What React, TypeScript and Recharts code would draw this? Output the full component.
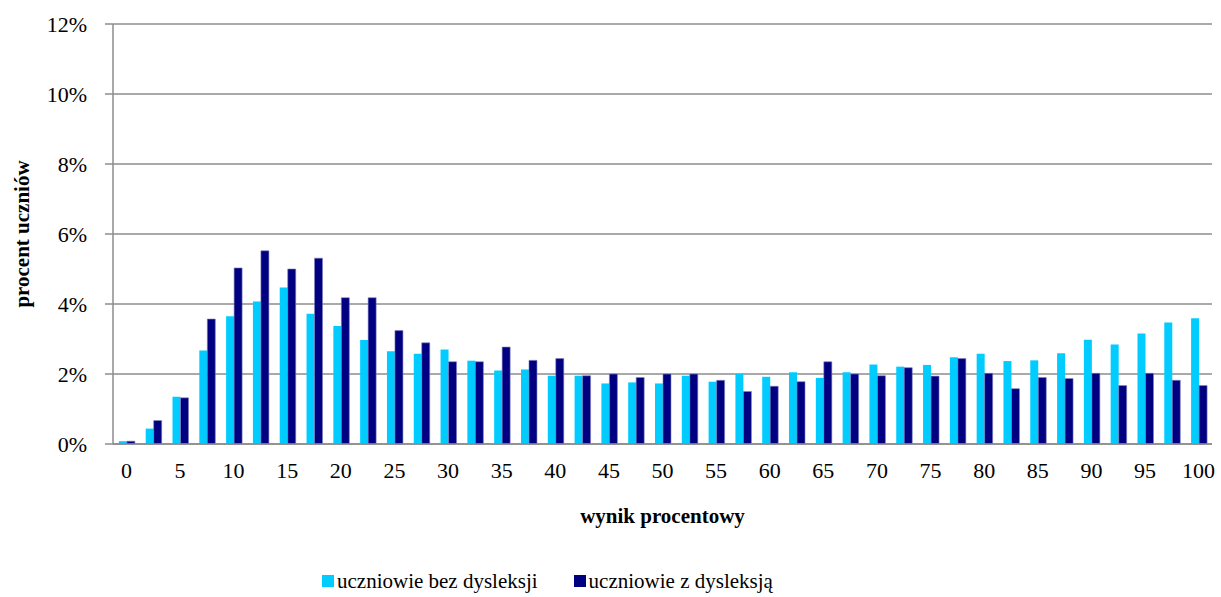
import React from "react"
import {
    BarChart,
    Bar,
    XAxis,
    YAxis,
    CartesianGrid,
    Legend
} from "recharts"

// wynik procentowy: 0, 2.5, 5 ... 100
const categories = [
    "0", "2.5", "5", "7.5", "10", "12.5", "15", "17.5", "20", "22.5",
    "25", "27.5", "30", "32.5", "35", "37.5", "40", "42.5", "45", "47.5",
    "50", "52.5", "55", "57.5", "60", "62.5", "65", "67.5", "70", "72.5",
    "75", "77.5", "80", "82.5", "85", "87.5", "90", "92.5", "95", "97.5", "100"
]

const bezDysleksji = [
    0.08, 0.44, 1.35, 2.67, 3.65, 4.07, 4.47, 3.72, 3.37, 2.97,
    2.65, 2.58, 2.70, 2.38, 2.10, 2.13, 1.95, 1.95, 1.73, 1.76,
    1.73, 1.95, 1.78, 2.01, 1.92, 2.05, 1.89, 2.05, 2.27, 2.21,
    2.26, 2.48, 2.58, 2.37, 2.39, 2.59, 2.98, 2.84, 3.16, 3.47, 3.59
]

const zDysleksja = [
    0.08, 0.67, 1.32, 3.57, 5.03, 5.52, 5.00, 5.31, 4.18, 4.18,
    3.24, 2.89, 2.35, 2.35, 2.77, 2.39, 2.44, 1.95, 2.00, 1.90,
    2.00, 2.00, 1.82, 1.50, 1.65, 1.78, 2.35, 2.00, 1.95, 2.18,
    1.94, 2.44, 2.02, 1.58, 1.90, 1.87, 2.02, 1.67, 2.02, 1.82, 1.67
]

const yTicks = [0, 2, 4, 6, 8, 10, 12]

const LIGHT = "#00ccff"
const DARK = "#000080"
const GRID = "#8c8c8c"
const FONT = "'Liberation Serif', 'Times New Roman', serif"

const data = categories.map((c, i) => ({
    wynik: c,
    bez: bezDysleksji[i],
    z: zDysleksja[i]
}))

function LegendContent() {
    const item = (color: string, text: string) => (
        <div style={{ display: "flex", alignItems: "center", marginRight: 36 }}>
            <span style={{ width: 12, height: 12, background: color, marginRight: 3, display: "inline-block" }} />
            <span>{text}</span>
        </div>
    )
    return (
        <div style={{
            display: "flex",
            paddingLeft: 322,
            paddingTop: 22,
            fontFamily: FONT,
            fontSize: 21,
            color: "#000",
            lineHeight: "24px"
        }}>
            {item(LIGHT, "uczniowie bez dysleksji")}
            {item(DARK, "uczniowie z dysleksją")}
        </div>
    )
}

export default function App() {
    return (
        <div style={{ position: "absolute", left: 0, top: 0, background: "#fff" }}>
            <BarChart
                width={1221}
                height={597}
                data={data}
                margin={{ top: 24, right: 9, left: 0, bottom: 0 }}
                barCategoryGap="22%"
                barGap={0}
            >
                <CartesianGrid vertical={false} stroke={GRID} strokeWidth={1.5} />
                <XAxis
                    dataKey="wynik"
                    interval={1}
                    height={103}
                    tickLine={false}
                    tickSize={0}
                    tickMargin={18}
                    axisLine={{ stroke: GRID, strokeWidth: 1.5 }}
                    tick={{ fill: "#000", fontSize: 22, fontFamily: FONT }}
                    label={({ viewBox }: any) => (
                        <text
                            x={viewBox.x + viewBox.width / 2}
                            y={viewBox.y + 79}
                            textAnchor="middle"
                            fontFamily={FONT}
                            fontSize={21}
                            fontWeight="bold"
                            fill="#000"
                        >
                            wynik procentowy
                        </text>
                    )}
                />
                <YAxis
                    width={113}
                    domain={[0, 12]}
                    ticks={yTicks}
                    tickFormatter={(v: number) => `${v}%`}
                    tickSize={8}
                    tickMargin={18}
                    axisLine={{ stroke: GRID, strokeWidth: 1.5 }}
                    tickLine={{ stroke: GRID, strokeWidth: 1.5 }}
                    tick={{ fill: "#000", fontSize: 22, fontFamily: FONT }}
                    label={({ viewBox }: any) => (
                        <text
                            x={22}
                            y={viewBox.y + viewBox.height / 2}
                            transform={`rotate(-90, 22, ${viewBox.y + viewBox.height / 2})`}
                            textAnchor="middle"
                            dominantBaseline="central"
                            fontFamily={FONT}
                            fontSize={21}
                            fontWeight="bold"
                            fill="#000"
                        >
                            procent uczniów
                        </text>
                    )}
                />
                <Legend
                    verticalAlign="bottom"
                    height={50}
                    wrapperStyle={{ left: 0, width: 1221 }}
                    content={() => <LegendContent />}
                />
                <Bar dataKey="bez" name="uczniowie bez dysleksji" fill={LIGHT} isAnimationActive={false} />
                <Bar dataKey="z" name="uczniowie z dysleksją" fill={DARK} stroke="#8080c0" strokeWidth={0.6} isAnimationActive={false} />
            </BarChart>
        </div>
    )
}
